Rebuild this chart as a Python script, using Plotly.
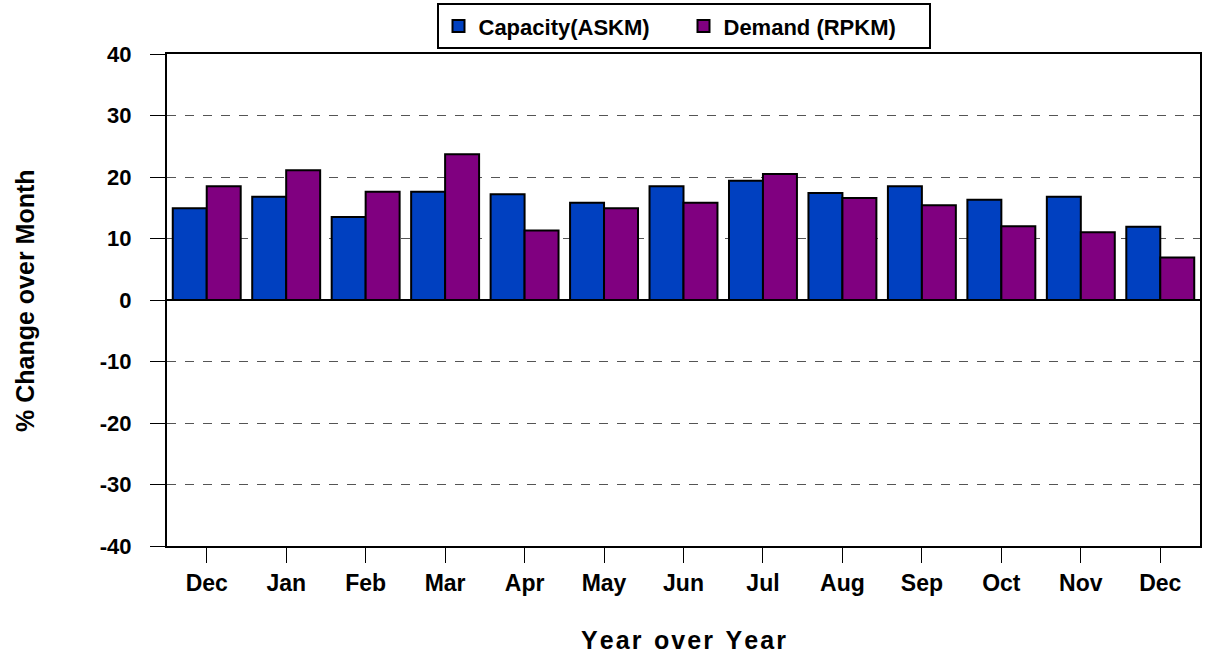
import plotly.graph_objects as go

months = ["Dec", "Jan", "Feb", "Mar", "Apr", "May", "Jun", "Jul", "Aug", "Sep", "Oct", "Nov", "Dec"]
capacity = [14.9, 16.8, 13.5, 17.6, 17.2, 15.8, 18.5, 19.4, 17.4, 18.5, 16.3, 16.8, 11.9]
demand = [18.5, 21.1, 17.6, 23.7, 11.3, 14.9, 15.8, 20.5, 16.6, 15.4, 12.0, 11.0, 6.9]
y_ticks = [-40, -30, -20, -10, 0, 10, 20, 30, 40]
y_ticktext = [str(v) for v in y_ticks]

x = list(range(len(months)))
FONT = "Arial, Liberation Sans, sans-serif"

fig = go.Figure()
fig.add_trace(go.Bar(x=x, y=capacity, name="Capacity(ASKM)",
                     marker=dict(color="#0040C0", line=dict(color="black", width=2))))
fig.add_trace(go.Bar(x=x, y=demand, name="Demand (RPKM)",
                     marker=dict(color="#800080", line=dict(color="black", width=2))))

fig.update_layout(
    width=1211, height=660,
    margin=dict(l=167, r=11, t=54, b=114, autoexpand=False),
    plot_bgcolor="white", paper_bgcolor="white",
    barmode="group", bargap=0.145, bargroupgap=0,
    font=dict(family=FONT, color="black"),
    legend=dict(orientation="h", x=0.5, xanchor="center", y=1.103, yanchor="top",
                bgcolor="white", bordercolor="black", borderwidth=2,
                font=dict(size=22, family=FONT, weight="bold"),
                itemwidth=30, tracegroupgap=0,
                entrywidth=200, entrywidthmode="pixels"),
    showlegend=True,
    annotations=[
        dict(text="Y e a r  o v e r  Y e a r".replace("  ", "\u2002").replace(" ", "\u200a"),
             xref="paper", yref="paper", x=0.5, y=-0.191, xanchor="center", yanchor="middle",
             showarrow=False, font=dict(size=25, family=FONT, weight="bold")),
        dict(text="% Change over Month", textangle=-90,
             xref="paper", yref="paper", x=-0.1375, y=0.5, xanchor="center", yanchor="middle",
             showarrow=False, font=dict(size=25, family=FONT, weight="bold")),
    ],
)
fig.update_xaxes(
    tickmode="array", tickvals=x, ticktext=months,
    range=[-0.5, len(months) - 0.5], automargin=False,
    ticks="outside", ticklen=15, tickwidth=1, tickcolor="black",
    tickfont=dict(size=23, family=FONT, weight="bold"),
    showline=True, linecolor="black", linewidth=2, mirror=True,
    showgrid=False,
)
fig.update_yaxes(
    range=[-40, 40], tickmode="array", tickvals=y_ticks, ticktext=y_ticktext,
    automargin=False,
    ticks="outside", ticklen=15, tickwidth=1, tickcolor="black",
    tickfont=dict(size=22, family=FONT, weight="bold"), ticklabelstandoff=14,
    showline=True, linecolor="black", linewidth=2, mirror=True,
    showgrid=True, gridcolor="#555555", griddash="dash", gridwidth=1,
    zeroline=True, zerolinecolor="black", zerolinewidth=2,
)

fig.write_html("out.html", config={"displayModeBar": False},
               post_script="document.body.style.margin='0';")
